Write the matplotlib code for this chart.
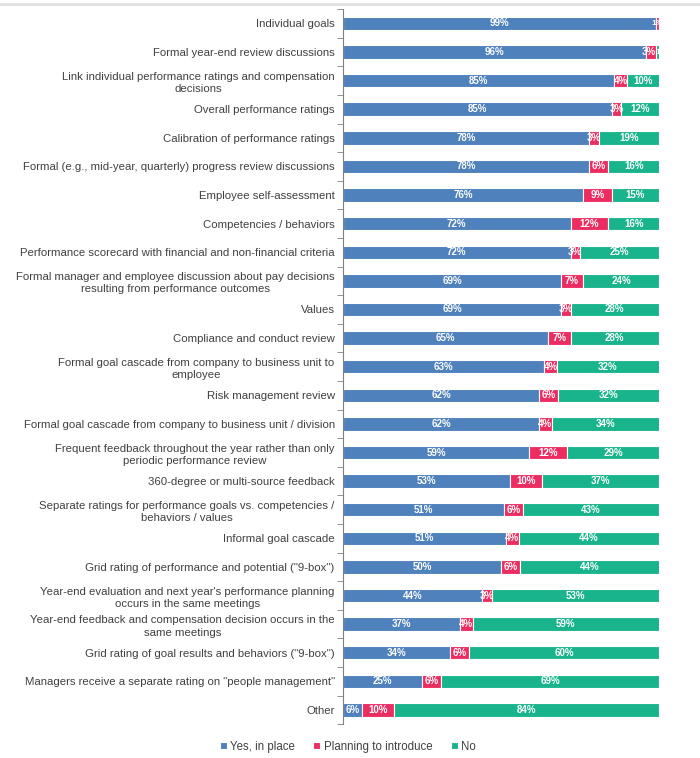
import matplotlib
matplotlib.use("Agg")
import matplotlib.pyplot as plt
import numpy as np
from matplotlib import font_manager

fams = {f.name for f in font_manager.fontManager.ttflist}
narrow = 'Liberation Sans Narrow' if 'Liberation Sans Narrow' in fams else 'Liberation Sans'
plt.rcParams['font.family'] = [narrow, 'DejaVu Sans']

categories = [
    "Individual goals",
    "Formal year-end review discussions",
    "Link individual performance ratings and compensation\ndecisions",
    "Overall performance ratings",
    "Calibration of performance ratings",
    "Formal (e.g., mid-year, quarterly) progress review discussions",
    "Employee self-assessment",
    "Competencies / behaviors",
    "Performance scorecard with financial and non-financial criteria",
    "Formal manager and employee discussion about pay decisions\nresulting from performance outcomes",
    "Values",
    "Compliance and conduct review",
    "Formal goal cascade from company to business unit to\nemployee",
    "Risk management review",
    "Formal goal cascade from company to business unit / division",
    "Frequent feedback throughout the year rather than only\nperiodic performance review",
    "360-degree or multi-source feedback",
    "Separate ratings for performance goals vs. competencies /\nbehaviors / values",
    "Informal goal cascade",
    "Grid rating of performance and potential (\"9-box\")",
    "Year-end evaluation and next year's performance planning\noccurs in the same meetings",
    "Year-end feedback and compensation decision occurs in the\nsame meetings",
    "Grid rating of goal results and behaviors (\"9-box\")",
    "Managers receive a separate rating on \"people management\"",
    "Other",
]
yes_in_place = [99, 96, 85, 85, 78, 78, 76, 72, 72, 69, 69, 65, 63, 62, 62, 59, 53, 51, 51, 50, 44, 37, 34, 25, 6]
planning = [1, 3, 4, 3, 3, 6, 9, 12, 3, 7, 3, 7, 4, 6, 4, 12, 10, 6, 4, 6, 3, 4, 6, 6, 10]
no = [0, 1, 10, 12, 19, 16, 15, 16, 25, 24, 28, 28, 32, 32, 34, 29, 37, 43, 44, 44, 53, 59, 60, 69, 84]
series_names = ["Yes, in place", "Planning to introduce", "No"]
colors = ["#4F81BD", "#EC2D62", "#19B48C"]

series = np.array([yes_in_place, planning, no], dtype=float)
totals = series.sum(axis=0)
shares = series / totals * 100

fig = plt.figure(figsize=(7.0, 7.58), dpi=100)
ax = fig.add_axes([0.490, 0.0445, 0.4514, 0.9435])

n = len(categories)
y = np.arange(n)
left = np.zeros(n)
nseries = len(series)
for k, (vals, raw, name, col) in enumerate(zip(shares, series, series_names, colors)):
    ax.barh(y, vals, left=left, height=0.47, color=col, edgecolor='white',
            linewidth=0.8, label=name)
    for i in range(n):
        if raw[i] <= 0:
            continue
        fs = 6 if raw[i] <= 1 else 7
        nxt = series[k + 1][i] if k + 1 < nseries else 0
        if k == nseries - 1 and raw[i] <= 1:
            x, ha = left[i], 'left'
        elif raw[i] <= 3 and 0 < nxt <= 1:
            x, ha = left[i] + vals[i], 'right'
        else:
            x, ha = left[i] + vals[i] / 2, 'center'
        ax.text(x, y[i], f"{int(raw[i])}%", ha=ha, va='center',
                color='white', fontsize=fs, fontweight='bold')
    left = left + vals

ax.set_xlim(0, 100)
ax.set_ylim(n - 0.5, -0.5)
ax.set_yticks(y)
ax.set_yticklabels(categories, fontsize=8.2, color='#404040', linespacing=1.3)
ax.tick_params(axis='y', length=0, pad=6)
ax.set_yticks(np.arange(-0.5, n, 1), minor=True)
ax.tick_params(axis='y', which='minor', length=4, color='#808080')
ax.set_xticks([])
for s in ['top', 'right', 'bottom']:
    ax.spines[s].set_visible(False)
ax.spines['left'].set_color('#808080')

for lbl in ax.get_yticklabels():
    lbl.set_multialignment('center')

fig.legend(loc='center', bbox_to_anchor=(0.497, 0.015), ncol=3, frameon=False,
           fontsize=8.3, handlelength=0.6, handleheight=0.6, handletextpad=0.3,
           columnspacing=1.6, labelcolor='#404040')

fig.add_artist(plt.Line2D([0, 1], [0.9945, 0.9945], color='#E0E0E0', linewidth=2,
                          transform=fig.transFigure))

fig.savefig("out.png", dpi=100)
